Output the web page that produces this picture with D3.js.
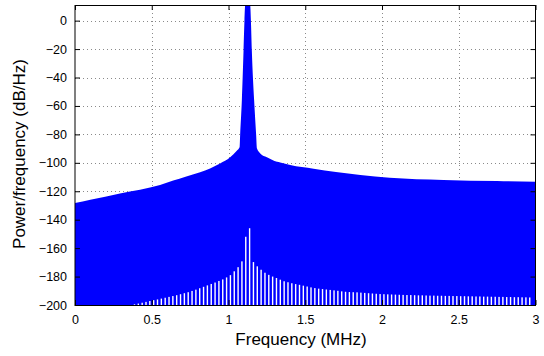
<!DOCTYPE html>
<html><head><meta charset="utf-8">
<script src="https://cdn.jsdelivr.net/npm/d3@7"></script>
<style>body{margin:0;background:#fff} text{font-family:"Liberation Sans",Arial,Helvetica,sans-serif;fill:#000}</style>
</head><body>
<svg id="c" width="544" height="356"></svg>
<script>
// Upper envelope of the periodogram (MHz, dB/Hz)
const envFreq = [0, 0.1, 0.293, 0.554, 0.64, 0.72, 0.815, 0.945, 1.011, 1.054, 1.072, 1.076, 1.087, 1.098, 1.104, 1.109, 1.141, 1.146, 1.152, 1.167, 1.18, 1.185, 1.207, 1.25, 1.316, 1.337, 1.402, 1.554, 1.7, 1.859, 2.05, 2.4, 2.75, 3.0];
const envDb   = [-128.3, -126, -121.5, -115.6, -112.5, -109.8, -106.7, -100.4, -96.1, -91.5, -89.1, -80, -56, -21, 0, 11, 11, 0, -21, -56, -80, -89.8, -93.4, -96.1, -99.3, -99.8, -101.6, -104.1, -106.5, -108.5, -110.5, -112, -112.8, -113.3];
// Comb of gaps at the bottom (tops of the white notches)
const spikeFreq = [0.3875,0.4125,0.4375,0.4625,0.4875,0.5125,0.5375,0.5625,0.5875,0.6125,0.6375,0.6625,0.6875,0.7125,0.7375,0.7625,0.7875,0.8125,0.8375,0.8625,0.8875,0.9125,0.9375,0.9625,0.9875,1.0125,1.0375,1.0625,1.0875,1.1125,1.1375,1.1625,1.1875,1.2125,1.2375,1.2625,1.2875,1.3125,1.3375,1.3625,1.3875,1.4125,1.4375,1.4625,1.4875,1.5125,1.5375,1.5625,1.5875,1.6125,1.6375,1.6625,1.6875,1.7125,1.7375,1.7625,1.7875,1.8125,1.8375,1.8625,1.8875,1.9125,1.9375,1.9625,1.9875,2.0125,2.0375,2.0625,2.0875,2.1125,2.1375,2.1625,2.1875,2.2125,2.2375,2.2625,2.2875,2.3125,2.3375,2.3625,2.3875,2.4125,2.4375,2.4625,2.4875,2.5125,2.5375,2.5625,2.5875,2.6125,2.6375,2.6625,2.6875,2.7125,2.7375,2.7625,2.7875,2.8125,2.8375,2.8625,2.8875,2.9125,2.9375,2.9625];
const spikeTop = [-199.5,-199,-198.4,-197.8,-197.2,-196.6,-196.1,-195.5,-194.9,-194.3,-193.7,-193.1,-192.4,-191.7,-191,-190.1,-189.2,-188.2,-187.2,-186.2,-185.2,-184.2,-183.1,-182,-180.6,-179,-176.3,-173.4,-169.3,-152,-146,-169.8,-172.8,-175.2,-177.3,-178.8,-180,-181,-182.2,-183.3,-184,-184.7,-185.3,-185.8,-186.4,-187,-187.6,-188.1,-188.5,-188.8,-189.1,-189.4,-189.7,-190,-190.4,-190.7,-190.9,-191,-191.1,-191.3,-191.5,-191.7,-191.9,-192.1,-192.3,-192.4,-192.5,-192.6,-192.7,-192.8,-192.9,-193,-193,-193.1,-193.2,-193.2,-193.3,-193.4,-193.4,-193.5,-193.5,-193.6,-193.6,-193.7,-193.7,-193.8,-193.8,-193.9,-193.9,-194,-194,-194.1,-194.1,-194.2,-194.2,-194.3,-194.3,-194.4,-194.4,-194.5,-194.5,-194.6,-194.6,-194.7];
const xTicks = [0, 0.5, 1, 1.5, 2, 2.5, 3];
const yTicks = [0, -20, -40, -60, -80, -100, -120, -140, -160, -180, -200];
const xLabel = "Frequency (MHz)";
const yLabel = "Power/frequency (dB/Hz)";

const L = 75, R = 535.5, T = 5, B = 305;
const svg = d3.select("#c");
const x = d3.scaleLinear().domain([0, 3]).range([L, R]);
const y = d3.scaleLinear().domain([-200, 11]).range([B, T]);

svg.append("defs").append("clipPath").attr("id", "clip")
  .append("rect").attr("x", L).attr("y", T).attr("width", R - L).attr("height", B - T);

// grid
const grid = svg.append("g").attr("stroke", "#8a8a8a").attr("stroke-width", 1).attr("stroke-dasharray", "1,3");
grid.selectAll("line.gx").data(xTicks.slice(1, -1)).join("line")
  .attr("x1", d => Math.round(x(d)) + 0.5).attr("x2", d => Math.round(x(d)) + 0.5).attr("y1", T).attr("y2", B);
grid.selectAll("line.gy").data(yTicks.slice(0, -1)).join("line")
  .attr("y1", d => Math.round(y(d)) + 0.5).attr("y2", d => Math.round(y(d)) + 0.5).attr("x1", L).attr("x2", R);

const plot = svg.append("g").attr("clip-path", "url(#clip)");
const env = envFreq.map((f, i) => ({ f, v: envDb[i] }));
plot.append("path").datum(env)
  .attr("fill", "#0000ff")
  .attr("d", d3.area().curve(d3.curveMonotoneX).x(d => x(d.f)).y0(y(-200)).y1(d => y(d.v)));

const spikes = spikeFreq.map((f, i) => ({ f, v: spikeTop[i] }));
plot.selectAll("rect.sp").data(spikes).join("rect")
  .attr("fill", "#fff")
  .attr("x", d => x(d.f) - 0.7).attr("width", 1.4)
  .attr("y", d => y(d.v)).attr("height", d => y(-200) - y(d.v));

// axes (MATLAB-style box with inward ticks)
const axG = svg.append("g");
axG.append("rect").attr("x", L).attr("y", T + 0.5).attr("width", R - L).attr("height", B - T)
  .attr("fill", "none").attr("stroke", "#000").attr("stroke-width", 1);
const axBottom = d3.axisBottom(x).tickValues(xTicks).tickSizeInner(-5).tickSizeOuter(0).tickPadding(10).tickFormat(d => String(d));
const axTop = d3.axisTop(x).tickValues(xTicks).tickSizeInner(-5).tickSizeOuter(0).tickFormat("");
const axLeft = d3.axisLeft(y).tickValues(yTicks).tickSizeInner(-5).tickSizeOuter(0).tickPadding(8).tickFormat(d => String(d).replace("-", "\u2212"));
const axRight = d3.axisRight(y).tickValues(yTicks).tickSizeInner(-5).tickSizeOuter(0).tickFormat("");
function style(g) { g.select(".domain").remove(); g.selectAll("text").attr("font-size", 12.5).attr("font-family", "Liberation Sans, Arial, sans-serif").attr("fill", "#000"); }
axG.append("g").attr("transform", `translate(0,${B})`).call(axBottom).call(style);
axG.append("g").attr("transform", `translate(0,${T})`).call(axTop).call(style);
axG.append("g").attr("transform", `translate(${L},0)`).call(axLeft).call(style);
axG.append("g").attr("transform", `translate(${R},0)`).call(axRight).call(style);

svg.append("text").attr("x", 301).attr("y", 345).attr("text-anchor", "middle").attr("font-size", 17).text(xLabel);
svg.append("text").attr("transform", "translate(25,154) rotate(-90)").attr("text-anchor", "middle").attr("font-size", 17).text(yLabel);
</script>
</body></html>
